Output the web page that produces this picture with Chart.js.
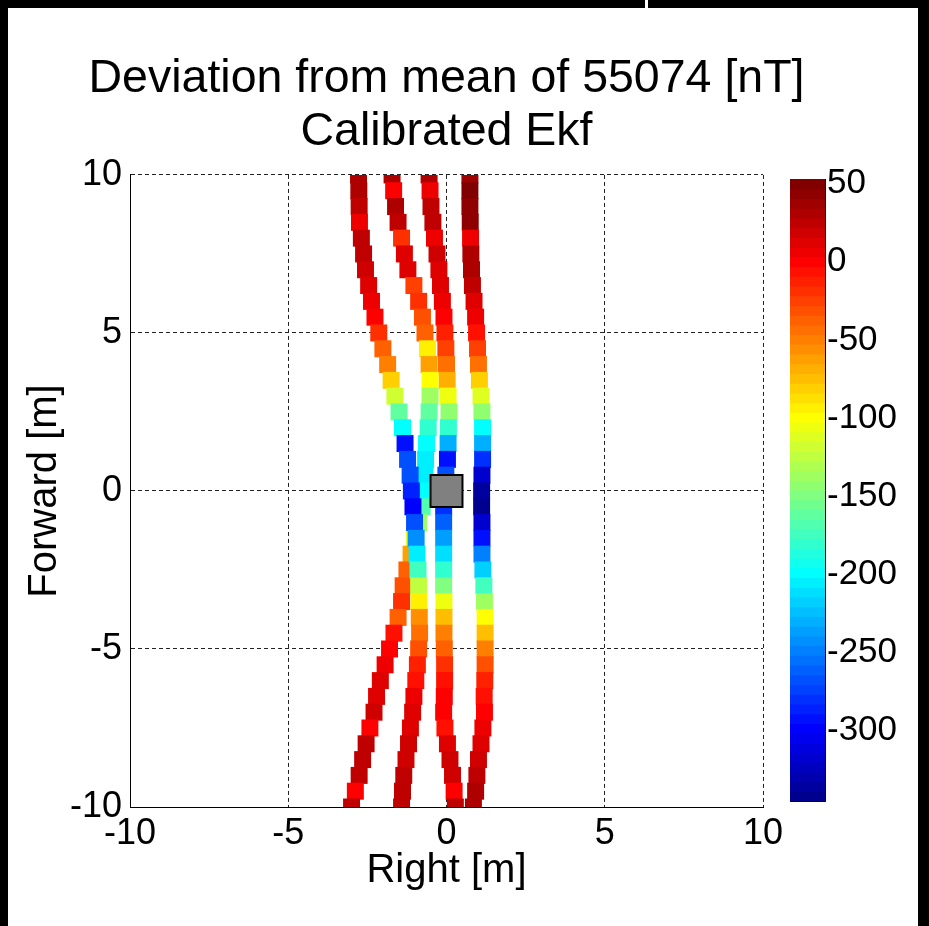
<!DOCTYPE html>
<html>
<head>
<meta charset="utf-8">
<title>Deviation from mean of 55074 [nT]</title>
<script src="https://cdn.jsdelivr.net/npm/chart.js@4.4.1/dist/chart.umd.min.js"></script>
<style>
  html, body { margin: 0; padding: 0; background: #000; }
  body { width: 929px; height: 926px; position: relative; overflow: hidden; }
  #fig { position: absolute; left: 8px; top: 8px; width: 910px; height: 918px; background: #fff; }
  #mark { position: absolute; left: 645px; top: 0; width: 3px; height: 8px; background: #fff; }
  #plot { position: absolute; left: 0; top: 0; }
  #cbar { position: absolute; left: 790px; top: 150px; }
</style>
</head>
<body>
<div id="fig"></div>
<div id="mark"></div>
<canvas id="plot" width="929" height="926"></canvas>
<canvas id="cbar" width="139" height="680"></canvas>
<script>
// forward position of every sample (m), shared by the four passes
const forward = [10, 9.5, 9, 8.5, 8, 7.5, 7, 6.5, 6, 5.5, 5, 4.5, 4, 3.5, 3, 2.5, 2, 1.5, 1, 0.5, 0,
  -0.5, -1, -1.5, -2, -2.5, -3, -3.5, -4, -4.5, -5, -5.5, -6, -6.5, -7, -7.5, -8, -8.5, -9, -9.5, -10];

// right offset (m) and deviation (nT) for each pass
const pass1Right = [-2.78, -2.77, -2.76, -2.75, -2.69, -2.62, -2.56, -2.46, -2.37, -2.26, -2.14, -2.01, -1.86, -1.75,
  -1.63, -1.50, -1.39, -1.31, -1.23, -1.15, -1.11, -1.06, -1.01, -0.96, -0.93, -0.90, -0.88, -0.87, -0.86, -0.85,
  -0.88, -0.92, -0.97, -1.03, -1.07, -1.14, -1.20, -1.28, -1.35, -1.39, -1.42];
const pass1Dev = [30, 30, 28, 5, 28, 25, 20, 10, 5, 0, -20, -35, -50, -80, -120, -160, -200, -290, -265, -270, -285,
  -300, -270, -240, -205, -175, -125, -95, -55, -45, -30, -15, -5, 5, 10, 15, 20, 20, 25, 25, 25];

const pass2Right = [-1.72, -1.67, -1.61, -1.53, -1.42, -1.33, -1.22, -1.03, -0.88, -0.76, -0.68, -0.60, -0.55, -0.52,
  -0.52, -0.55, -0.58, -0.63, -0.66, -0.68, -0.70, -0.77, -0.88, -1.01, -1.12, -1.25, -1.37, -1.42, -1.53, -1.66,
  -1.80, -1.94, -2.09, -2.21, -2.29, -2.42, -2.54, -2.65, -2.76, -2.88, -3.00];
const pass2Dev = [30, 0, 30, 28, -20, 10, 10, -25, -20, -30, -35, -95, -65, -100, -135, -160, -180, -200, -205, -205,
  -200, -165, -135, -105, -65, -40, -30, -20, -40, -5, 0, 5, 10, 15, 20, 0, 25, 25, 25, 0, 25];

const pass3Right = [-0.55, -0.52, -0.49, -0.43, -0.38, -0.30, -0.24, -0.19, -0.13, -0.08, -0.05, -0.02, 0.00, 0.02,
  0.05, 0.08, 0.06, 0.05, 0.03, -0.02, -0.05, -0.09, -0.09, -0.09, -0.09, -0.09, -0.09, -0.08, -0.08, -0.08,
  -0.07, -0.06, -0.06, -0.07, -0.09, -0.05, 0.03, 0.11, 0.19, 0.24, 0.28];
const pass3Dev = [30, 5, 28, 25, 5, 20, 15, 10, 5, 0, -10, -25, -45, -70, -105, -140, -180, -230, -295, -270,
  -290, -280, -260, -235, -210, -180, -150, -105, -75, -50, -35, -20, -8, 0, 0, -5, 15, 20, 20, 0, 25];

const pass4Right = [0.74, 0.74, 0.74, 0.75, 0.76, 0.77, 0.79, 0.82, 0.87, 0.92, 0.95, 0.98, 1.01, 1.04, 1.09, 1.12,
  1.14, 1.14, 1.14, 1.12, 1.11, 1.11, 1.12, 1.12, 1.12, 1.15, 1.18, 1.20, 1.22, 1.22, 1.22, 1.22, 1.21, 1.19,
  1.20, 1.15, 1.09, 1.01, 0.96, 0.92, 0.85];
const pass4Dev = [40, 50, 45, 45, 5, 30, 30, 25, 15, 5, -5, -25, -45, -80, -110, -140, -200, -230, -280, -320,
  -335, -340, -320, -290, -250, -215, -175, -135, -100, -72, -50, -30, -12, -3, 2, 5, 10, 20, 25, 30, 30];

// sensor position
const sensorRight = [0];
const sensorForward = [0];

const rightTicks = [-10, -5, 0, 5, 10];
const forwardTicks = [-10, -5, 0, 5, 10];
const cbarTicks = [50, 0, -50, -100, -150, -200, -250, -300];
const cMin = -345;
const cMax = 53;

const fam = "'Liberation Sans', Arial, Helvetica, sans-serif";

// MATLAB jet(64), k = 0..63
function jet64(k) {
  const i = k + 1;
  const r = i <= 24 ? 0 : i <= 40 ? (i - 24) / 16 : i <= 56 ? 1 : (72 - i) / 16;
  const g = i <= 8 ? 0 : i <= 24 ? (i - 8) / 16 : i <= 40 ? 1 : i <= 55 ? (56 - i) / 16 : 0;
  const b = i <= 8 ? (i + 8) / 16 : i <= 24 ? 1 : i <= 39 ? (40 - i) / 16 : 0;
  return `rgb(${Math.round(r * 255)},${Math.round(g * 255)},${Math.round(b * 255)})`;
}

function devColor(v) {
  let k = Math.floor((v - cMin) / (cMax - cMin) * 64);
  k = Math.max(0, Math.min(63, k));
  return jet64(k);
}

const passes = [
  [pass1Right, pass1Dev],
  [pass2Right, pass2Dev],
  [pass3Right, pass3Dev],
  [pass4Right, pass4Dev]
];

const trackSets = passes.map(([xs, vs], n) => ({
  label: "Pass " + (n + 1),
  data: xs.map((x, i) => ({ x: x, y: forward[i] })),
  pointStyle: "rect",
  pointRadius: 12,
  pointBorderWidth: 0,
  borderWidth: 0,
  backgroundColor: vs.map(devColor),
  clip: 0
}));

const sensorSet = {
  label: "Sensor",
  data: sensorRight.map((x, i) => ({ x: x, y: sensorForward[i] })),
  pointStyle: "rect",
  pointRadius: 22.6,
  backgroundColor: "#808080",
  borderColor: "#000",
  borderWidth: 2
};

const tickFont = { family: fam, size: 36 };
const labelFont = { family: fam, size: 40 };

new Chart(document.getElementById("plot"), {
  type: "scatter",
  data: { datasets: [sensorSet, ...trackSets] },
  options: {
    responsive: false,
    devicePixelRatio: 1,
    animation: false,
    events: [],
    layout: { padding: { top: 0, right: 36, bottom: 0, left: 0 } },
    plugins: {
      legend: { display: false },
      tooltip: { enabled: false },
      title: {
        display: true,
        text: ["Deviation from mean of 55074 [nT]", "Calibrated Ekf"],
        color: "#000",
        font: { family: fam, size: 46.5, weight: "normal", lineHeight: 1.15 },
        padding: { top: 52.3, bottom: 15.7 }
      }
    },
    scales: {
      x: {
        type: "linear",
        min: -10,
        max: 10,
        afterBuildTicks: s => { s.ticks = rightTicks.map(v => ({ value: v })); },
        afterFit: s => { s.height = 119; },
        ticks: { font: tickFont, color: "#000", padding: 5 },
        grid: { color: "#222", lineWidth: 1, drawTicks: false },
        border: { display: true, color: "#000", width: 1, dash: [4, 3] },
        title: { display: true, text: "Right [m]", font: labelFont, color: "#000", padding: { top: 0, bottom: 31 } }
      },
      y: {
        type: "linear",
        min: -10,
        max: 10,
        afterBuildTicks: s => { s.ticks = forwardTicks.map(v => ({ value: v })); },
        afterFit: s => { s.width = 130; },
        ticks: { font: tickFont, color: "#000", padding: 8 },
        grid: { color: "#222", lineWidth: 1, drawTicks: false },
        border: { display: true, color: "#000", width: 1, dash: [4, 3] },
        title: { display: true, text: "Forward [m]", font: labelFont, color: "#000", padding: { top: 21, bottom: 0 } }
      },
      // empty room on the right, where the colour bar sits
      yr: {
        type: "linear",
        position: "right",
        ticks: { display: false },
        grid: { display: false, drawTicks: false },
        border: { display: false },
        afterFit: s => { s.width = 130; }
      }
    }
  }
});

// colour bar
const levels = Array.from({ length: 64 }, (_, k) => k);
const step = (cMax - cMin) / 64;
const edgeAxis = {
  type: "category",
  ticks: { display: false },
  grid: { display: false, drawTicks: false },
  border: { display: true, color: "#000", width: 1 },
  afterFit: s => { s.height = 0; },
  z: 1
};

new Chart(document.getElementById("cbar"), {
  type: "bar",
  data: {
    labels: ["c"],
    datasets: [{
      data: levels.map(k => ({ x: "c", y: [cMin + k * step, cMin + (k + 1) * step] })),
      backgroundColor: levels.map(jet64),
      borderWidth: 0,
      barPercentage: 1,
      categoryPercentage: 1,
      inflateAmount: 0.6
    }]
  },
  options: {
    responsive: false,
    devicePixelRatio: 1,
    animation: false,
    events: [],
    layout: { padding: { top: 25, right: 0, bottom: 23, left: 0 } },
    plugins: { legend: { display: false }, tooltip: { enabled: false } },
    scales: {
      x: { ...edgeAxis, position: "bottom" },
      x2: { ...edgeAxis, position: "top" },
      y: {
        type: "linear",
        position: "right",
        min: cMin,
        max: cMax,
        afterBuildTicks: s => { s.ticks = cbarTicks.map(v => ({ value: v })); },
        afterFit: s => { s.width = 104; },
        ticks: { font: { family: fam, size: 35 }, color: "#000", padding: 8 },
        grid: { drawOnChartArea: false, drawTicks: true, tickLength: -6, tickColor: "#000", tickWidth: 1 },
        border: { display: true, color: "#000", width: 1 },
        z: 1
      },
      yl: {
        type: "linear",
        position: "left",
        min: cMin,
        max: cMax,
        afterBuildTicks: s => { s.ticks = cbarTicks.map(v => ({ value: v })); },
        afterFit: s => { s.width = 0; },
        ticks: { display: false },
        grid: { drawOnChartArea: false, drawTicks: true, tickLength: -6, tickColor: "#000", tickWidth: 1 },
        border: { display: true, color: "#000", width: 1 },
        z: 1
      }
    }
  }
});
</script>
</body>
</html>
